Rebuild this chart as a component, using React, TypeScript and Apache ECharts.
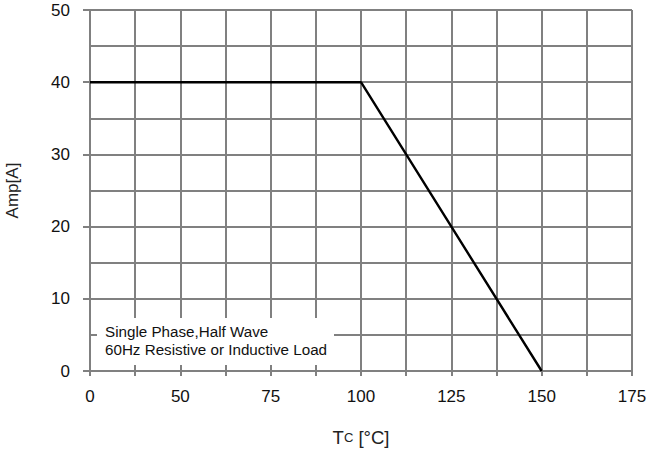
import React, { useEffect, useRef } from "react";
import * as echarts from "echarts";

// Case temperature tick labels (major grid positions)
const tempLabels = ["0", "50", "75", "100", "125", "150", "175"];
// Derating curve: forward current limit vs. case temperature
const curveTemp = ["0", "100", "150"];
const curveAmp = [40, 40, 0];
// Current axis range
const ampMin = 0;
const ampMax = 50;
const ampStep = 10;

const noteLines = ["Single Phase,Half Wave", "60Hz Resistive or Inductive Load"];

const GRID = "#808080";
const FONT = "Liberation Sans, Arial, sans-serif";

export default function App() {
  const ref = useRef<HTMLDivElement>(null);

  useEffect(() => {
    if (!ref.current) return;
    const chart = echarts.init(ref.current, undefined, { renderer: "svg" });
    const minorCount = (tempLabels.length - 1) * 2;

    chart.setOption({
      animation: false,
      backgroundColor: "#ffffff",
      grid: {
        left: 90,
        right: 23,
        top: 10,
        bottom: 82,
        containLabel: false,
        outerBoundsMode: "none",
      },
      xAxis: [
        {
          type: "category",
          data: tempLabels,
          boundaryGap: false,
          position: "bottom",
          name: "T{s|C} [°C]",
          nameLocation: "middle",
          nameGap: 57,
          nameMoveOverlap: false,
          nameTextStyle: {
            color: "#222",
            fontSize: 18.5,
            fontFamily: FONT,
            rich: { s: { fontSize: 13, fontFamily: FONT, color: "#222" } },
          },
          axisLine: { show: false },
          axisTick: { show: false },
          splitLine: { show: false },
          axisLabel: {
            color: "#111",
            fontSize: 17,
            fontFamily: FONT,
            margin: 17,
            interval: 0,
          },
          z: 5,
        },
        {
          // half-step grid between labelled temperatures
          type: "value",
          min: 0,
          max: minorCount,
          interval: 1,
          position: "bottom",
          axisLine: { show: true, lineStyle: { color: GRID, width: 2 } },
          axisTick: { show: true, inside: false, length: 5, lineStyle: { color: GRID, width: 2 } },
          axisLabel: { show: false },
          splitLine: { show: true, lineStyle: { color: GRID, width: 2 } },
        },
      ],
      yAxis: {
        type: "value",
        min: ampMin,
        max: ampMax,
        interval: ampStep,
        name: "Amp[A]",
        nameLocation: "middle",
        nameGap: 69,
        nameMoveOverlap: false,
        nameTextStyle: {
          color: "#222",
          fontSize: 17,
          fontFamily: FONT,
        },
        axisLine: { show: true, lineStyle: { color: GRID, width: 2 } },
        axisTick: { show: true, inside: false, length: 7, lineStyle: { color: GRID, width: 2 } },
        axisLabel: {
          color: "#111",
          fontSize: 17,
          fontFamily: FONT,
          margin: 20,
          verticalAlign: "middle",
          hideOverlap: false,
        },
        splitLine: { show: true, lineStyle: { color: GRID, width: 2 } },
        minorTick: { show: false, splitNumber: 2 },
        minorSplitLine: { show: true, lineStyle: { color: GRID, width: 2 } },
      },
      graphic: [
        {
          type: "rect",
          left: 97,
          top: 318,
          z: 100,
          shape: { x: 0, y: 0, width: 237, height: 47 },
          style: { fill: "#ffffff" },
        },
        {
          type: "text",
          left: 105,
          top: 323,
          z: 101,
          style: {
            text: noteLines.join("\n"),
            fill: "#111",
            font: `15.2px ${FONT}`,
            lineHeight: 17.5,
          },
        },
      ],
      series: [
        {
          type: "line",
          xAxisIndex: 0,
          data: curveTemp.map((t, i) => [t, curveAmp[i]]),
          symbol: "none",
          lineStyle: { color: "#000", width: 2.4 },
          z: 10,
        },
      ],
    });

    return () => chart.dispose();
  }, []);

  return (
    <div
      ref={ref}
      style={{ position: "absolute", left: 0, top: 0, width: 655, height: 453 }}
    />
  );
}
